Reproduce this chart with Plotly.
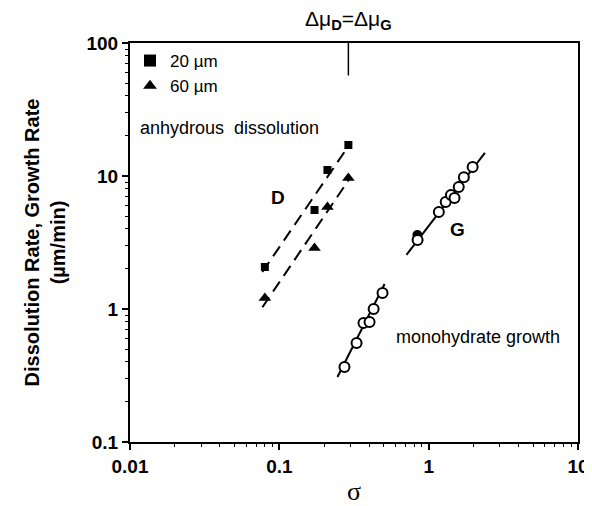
import numpy as np
import plotly.graph_objects as go

# ---- data ----
sigma_20 = [0.080, 0.172, 0.21, 0.29]
rate_20 = [2.07, 5.55, 11.1, 17.1]
sigma_60 = [0.080, 0.172, 0.21, 0.29]
rate_60 = [1.21, 2.88, 5.85, 9.66]

fit20_sigma = [0.077, 0.30]
fit20_rate = [1.90, 17.7]
fit60_sigma = [0.077, 0.30]
fit60_rate = [1.03, 9.8]

g_sigma = [0.843, 1.17, 1.30, 1.41, 1.49, 1.59, 1.72, 1.97]
g_rate = [3.30, 5.36, 6.38, 7.2, 6.84, 8.27, 9.8, 11.7]
g_filled_sigma = [0.84]
g_filled_rate = [3.6]
gline_sigma = [0.71, 2.38]
gline_rate = [2.55, 14.9]

mono_sigma = [0.273, 0.329, 0.366, 0.402, 0.428, 0.491]
mono_rate = [0.366, 0.555, 0.785, 0.80, 1.0, 1.32]
monoline_sigma = [0.245, 0.507]
monoline_rate = [0.308, 1.54]

eq_sigma = [0.29, 0.29]
eq_rate = [100, 57]

x_ticks = [0.01, 0.1, 1, 10]
x_ticklabels = ["0.01", "0.1", "1", "10"]
y_ticks = [0.1, 1, 10, 100]
y_ticklabels = ["0.1", "1", "10", "100"]

SANS = "Liberation Sans"
BLACK = "black"

fig = go.Figure()

# fit lines
fig.add_trace(go.Scatter(x=fit20_sigma, y=fit20_rate, mode="lines",
                         line=dict(color=BLACK, width=2, dash="12px,7px"), showlegend=False))
fig.add_trace(go.Scatter(x=fit60_sigma, y=fit60_rate, mode="lines",
                         line=dict(color=BLACK, width=2, dash="12px,7px"), showlegend=False))
fig.add_trace(go.Scatter(x=gline_sigma, y=gline_rate, mode="lines",
                         line=dict(color=BLACK, width=2), showlegend=False))
fig.add_trace(go.Scatter(x=monoline_sigma, y=monoline_rate, mode="lines",
                         line=dict(color=BLACK, width=2), showlegend=False))
fig.add_trace(go.Scatter(x=eq_sigma, y=eq_rate, mode="lines", cliponaxis=False,
                         line=dict(color=BLACK, width=1.5), showlegend=False))

# points
fig.add_trace(go.Scatter(x=sigma_20, y=rate_20, mode="markers", name="20 \u00b5m",
                         marker=dict(symbol="square", size=8, color=BLACK)))
fig.add_trace(go.Scatter(x=sigma_60, y=rate_60, mode="markers", name="60 \u00b5m",
                         marker=dict(symbol="triangle-up", size=11, color=BLACK)))
fig.add_trace(go.Scatter(x=g_filled_sigma, y=g_filled_rate, mode="markers", showlegend=False,
                         marker=dict(symbol="circle", size=10, color=BLACK)))
fig.add_trace(go.Scatter(x=g_sigma, y=g_rate, mode="markers", showlegend=False,
                         marker=dict(symbol="circle", size=10, color="white",
                                     line=dict(color=BLACK, width=2))))
fig.add_trace(go.Scatter(x=mono_sigma, y=mono_rate, mode="markers", showlegend=False,
                         marker=dict(symbol="circle", size=10, color="white",
                                     line=dict(color=BLACK, width=2))))

def ann(text, x, y, size=18, bold=False, xanchor="left"):
    fig.add_annotation(x=np.log10(x), y=np.log10(y), xref="x", yref="y",
                       text=f"<b>{text}</b>" if bold else text, showarrow=False,
                       xanchor=xanchor, yanchor="middle",
                       font=dict(family=SANS, size=size, color=BLACK))

ann("anhydrous  dissolution", 0.0113, 23.0)
ann("D", 0.098, 6.9, size=19, bold=True, xanchor="center")
ann("G", 1.57, 3.93, size=19, bold=True, xanchor="center")
ann("monohydrate growth", 0.59, 0.615)

fig.add_annotation(x=np.log10(0.29), y=1.0, xref="x", yref="paper", yshift=23,
                   text="\u0394\u03bc<sub><b>D</b></sub>=\u0394\u03bc<sub><b>G</b></sub>",
                   showarrow=False, xanchor="center", yanchor="middle",
                   font=dict(family=SANS, size=21, color=BLACK))

# y-axis title (two lines, rotated)
fig.add_annotation(x=-0.19, y=0.5, xref="paper", yref="paper",
                   text="<b>Dissolution Rate, Growth Rate<br>(\u00b5m/min)</b>",
                   textangle=-90, showarrow=False, xanchor="center", yanchor="middle",
                   font=dict(family=SANS, size=20, color=BLACK))

axis_common = dict(type="log", showgrid=False, zeroline=False, showline=True,
                   linecolor=BLACK, linewidth=2, mirror=True, ticks="outside",
                   ticklen=6, tickwidth=2, tickcolor=BLACK, automargin=False,
                   tickfont=dict(family=SANS, size=19, color=BLACK),
                   minor=dict(ticks="outside", ticklen=3, tickwidth=1,
                              tickcolor=BLACK, dtick="D1", showgrid=False))

fig.update_xaxes(range=[-2, 1], tickvals=x_ticks,
                 ticktext=[f"<b>{t}</b>" for t in x_ticklabels],
                 title=dict(text="\u03c3", font=dict(family="Liberation Serif", size=26, color=BLACK),
                            standoff=6),
                 **axis_common)
fig.update_yaxes(range=[-1, 2], tickvals=y_ticks,
                 ticktext=[f"<b>{t}</b>" for t in y_ticklabels],
                 **axis_common)

# the page places the figure 8 px from the window's top-left corner
fig.update_layout(
    width=584, height=498,
    margin=dict(l=122, r=14, t=35, b=64, autoexpand=False),
    paper_bgcolor="white", plot_bgcolor="white",
    legend=dict(x=0.0, y=1.0, xanchor="left", yanchor="top",
                bgcolor="rgba(0,0,0,0)", font=dict(family=SANS, size=17, color=BLACK),
                itemsizing="constant"),
)

fig.write_html("out.html")
